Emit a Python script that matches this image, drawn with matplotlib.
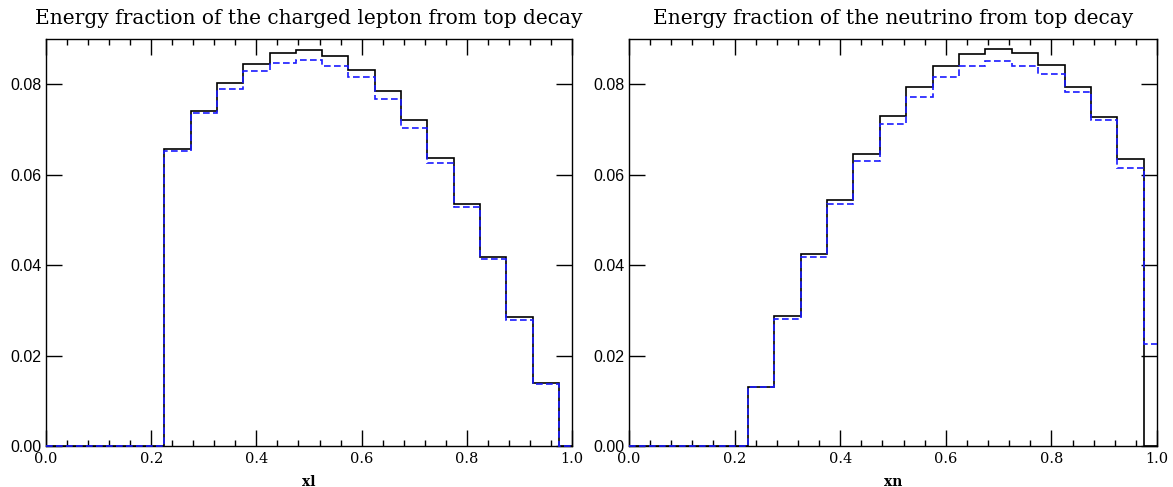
import numpy as np
import matplotlib
matplotlib.use("Agg")
import matplotlib.pyplot as plt
from matplotlib.ticker import MultipleLocator

# bin edges: centres at 0, 0.05, ..., 1.0 (half-width bins at the ends)
edges = np.r_[0.0, np.arange(0.025, 1.0, 0.05), 1.0]

xl_solid = [0, 0, 0, 0, 0,
            0.0656, 0.0740, 0.0802, 0.0845, 0.0869, 0.0875, 0.0863, 0.0832,
            0.0785, 0.0720, 0.0636, 0.0535, 0.0417, 0.0286, 0.0139, 0]
xl_dashed = [0, 0, 0, 0, 0,
             0.0652, 0.0737, 0.0790, 0.0829, 0.0846, 0.0854, 0.0841, 0.0817,
             0.0768, 0.0703, 0.0625, 0.0529, 0.0414, 0.0278, 0.0136, 0]

xn_solid = [0, 0, 0, 0, 0,
            0.0131, 0.0287, 0.0424, 0.0544, 0.0645, 0.0729, 0.0793, 0.0840,
            0.0867, 0.0877, 0.0869, 0.0842, 0.0794, 0.0728, 0.0634, 0]
xn_dashed = [0, 0, 0, 0, 0,
             0.0130, 0.0281, 0.0418, 0.0536, 0.0631, 0.0712, 0.0772, 0.0816,
             0.0840, 0.0851, 0.0841, 0.0823, 0.0782, 0.0721, 0.0615, 0.0226]

panels = [
    ("Energy fraction of the charged lepton from top decay", "xl", xl_solid, xl_dashed),
    ("Energy fraction of the neutrino from top decay", "xn", xn_solid, xn_dashed),
]

fig = plt.figure(figsize=(11.73, 4.87), dpi=100)
lefts = [46 / 1173, 629 / 1173]
widths = [526 / 1173, 528 / 1173]

for i, (title, xlab, solid, dashed) in enumerate(panels):
    ax = fig.add_axes([lefts[i], 41 / 487, widths[i], 407 / 487])
    ax.stairs(solid, edges, color="black", lw=1.2, baseline=None, zorder=3)
    ax.stairs(dashed, edges, color="#1a1aff", lw=1.2, ls=(0, (4, 2)),
              baseline=None, zorder=4, clip_on=False)
    ax.set_xlim(0, 1)
    ax.set_ylim(0, 0.09)
    ax.xaxis.set_major_locator(MultipleLocator(0.2))
    ax.xaxis.set_minor_locator(MultipleLocator(0.04))
    ax.yaxis.set_major_locator(MultipleLocator(0.02))
    ax.tick_params(which="both", direction="in", top=True, right=True,
                   color="black", width=1.0)
    ax.tick_params(which="major", length=11.5)
    ax.tick_params(which="minor", length=4.3)
    ax.tick_params(axis="x", pad=4)
    ax.tick_params(axis="y", pad=3)
    ax.xaxis.set_major_formatter(plt.FuncFormatter(lambda v, p: f"{v:.1f}"))
    ax.yaxis.set_major_formatter(plt.FuncFormatter(lambda v, p: f"{v:.2f}"))
    for lab in ax.get_xticklabels():
        lab.set_family("DejaVu Serif")
        lab.set_fontsize(10.5)
    for lab in ax.get_yticklabels():
        lab.set_family("Liberation Sans")
        lab.set_fontsize(11.5)
    for sp in ax.spines.values():
        sp.set_linewidth(1.0)
    ax.set_title(title, family="DejaVu Serif", fontsize=14.5, pad=11)
    ax.set_xlabel(xlab, family="DejaVu Serif", fontsize=10, fontweight="bold", labelpad=7)

fig.savefig("out.png", dpi=100)
